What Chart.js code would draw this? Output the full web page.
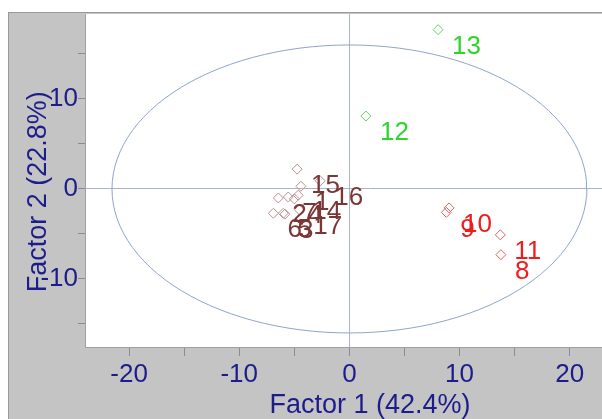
<!DOCTYPE html>
<html>
<head>
<meta charset="utf-8">
<script src="https://cdn.jsdelivr.net/npm/chart.js@4/dist/chart.umd.min.js"></script>
<style>
  html, body { margin: 0; padding: 0; background: #fff; overflow: hidden; width: 602px; height: 419px; }
  #wrap { position: absolute; left: 8px; top: 12px; width: 700px; height: 407px;
          background: #c4c4c4; border-top: 1px solid #9a9a9a; border-left: 1px solid #9a9a9a; }
  #chart { display: block; }
</style>
</head>
<body>
<div id="wrap"><canvas id="chart" width="646" height="406"></canvas></div>
<script>
// scores per group
const brownIds = ['1', '2', '3', '4', '5', '6', '7', '14', '15', '16', '17'];
const brownX = [-4.4, -6.45, -5.85, -5.0, -6.0, -6.9, -5.55, -4.65, -4.75, -2.65, -4.55];
const brownY = [0.3, -1.0, -2.8, -1.1, -2.7, -2.7, -0.9, -0.7, 2.2, 0.9, -2.3];

const redIds = ['8', '9', '10', '11'];
const redX = [13.75, 8.8, 9.05, 13.7];
const redY = [-7.3, -2.6, -2.1, -5.1];

const greenIds = ['12', '13'];
const greenX = [1.5, 8.05];
const greenY = [8.1, 17.7];

// tick marks every 5, numbers every 10
const xTicks = [-20, -15, -10, -5, 0, 5, 10, 15, 20, 25];
const yTicks = [-15, -10, -5, 0, 5, 10, 15];

// confidence ellipse semi-axes
const ellipseA = 21.55;
const ellipseB = 16.0;

const xTitle = 'Factor 1 (42.4%)';
const yTitle = 'Factor 2 (22.8%)';

const navy = '#1c1c8a';
const font = 'Liberation Sans, Arial, sans-serif';

function pts(xs, ys) {
    return xs.map((x, i) => ({ x: x, y: ys[i] }));
}

let ellipse = [];
for (let i = 0; i <= 120; i++) {
    let t = i / 120 * Math.PI * 2;
    ellipse.push({ x: ellipseA * Math.cos(t), y: ellipseB * Math.sin(t) });
}

// white plot area
const plotBg = {
    id: 'plotBg',
    beforeDraw(chart) {
        const { ctx, chartArea: a } = chart;
        ctx.save();
        ctx.fillStyle = '#fff';
        ctx.fillRect(a.left, a.top, a.right - a.left, a.bottom - a.top);
        ctx.restore();
    }
};

// sample numbers next to each diamond
const pointLabels = {
    id: 'pointLabels',
    afterDatasetsDraw(chart) {
        const ctx = chart.ctx;
        ctx.save();
        ctx.font = '26px ' + font;
        ctx.textAlign = 'left';
        ctx.textBaseline = 'middle';
        chart.data.datasets.forEach((ds, di) => {
            if (!ds.ids) return;
            ctx.fillStyle = ds.labelColor;
            chart.getDatasetMeta(di).data.forEach((el, i) => {
                ctx.fillText(ds.ids[i], el.x + 14, el.y + 17);
            });
        });
        ctx.restore();
    }
};

function noPad(s) {
    s.paddingTop = 0; s.paddingBottom = 0;
    s.paddingLeft = 0; s.paddingRight = 0;
}

const zeroLine = c => (c.tick && c.tick.value === 0 ? '#aab4c6' : 'rgba(0,0,0,0)');
const tens = v => (v % 10 === 0 ? String(v) : '');

new Chart(document.getElementById('chart'), {
    type: 'scatter',
    data: {
        datasets: [
            {
                data: ellipse, showLine: true, pointRadius: 0,
                borderColor: '#8ea6cc', borderWidth: 1, tension: 0
            },
            {
                data: pts(brownX, brownY), ids: brownIds, labelColor: '#7b3535',
                pointStyle: 'rectRot', pointRadius: 5, borderWidth: 1,
                borderColor: '#c09090', backgroundColor: 'rgba(255,255,255,0)'
            },
            {
                data: pts(redX, redY), ids: redIds, labelColor: '#ee1c1c',
                pointStyle: 'rectRot', pointRadius: 5, borderWidth: 1,
                borderColor: '#ea6060', backgroundColor: 'rgba(255,255,255,0)'
            },
            {
                data: pts(greenX, greenY), ids: greenIds, labelColor: '#2fd42f',
                pointStyle: 'rectRot', pointRadius: 5, borderWidth: 1,
                borderColor: '#5cd85c', backgroundColor: 'rgba(255,255,255,0)'
            }
        ]
    },
    options: {
        responsive: false,
        animation: false,
        layout: { autoPadding: false, padding: { top: 1, right: 0, left: 0, bottom: 0 } },
        plugins: { legend: { display: false }, tooltip: { enabled: false } },
        scales: {
            x: {
                min: -24, max: 27.74,
                afterBuildTicks(s) { s.ticks = xTicks.map(v => ({ value: v })); },
                afterFit(s) { s.height = 72; noPad(s); },
                ticks: {
                    padding: 3, color: navy, maxRotation: 0, autoSkip: false,
                    font: { family: font, size: 26 },
                    callback: tens
                },
                grid: { color: zeroLine, tickColor: '#8c8c8c', tickLength: 9, lineWidth: 1 },
                border: { color: '#a0a0a0', width: 1 },
                title: {
                    display: true, text: xTitle, color: navy,
                    font: { family: font, size: 27, lineHeight: 1 },
                    padding: { top: 0, bottom: 0 }
                }
            },
            y: {
                min: -17.56, max: 19.44,
                afterBuildTicks(s) { s.ticks = yTicks.map(v => ({ value: v })); },
                afterFit(s) { s.width = 76; noPad(s); },
                ticks: {
                    padding: 0, color: navy, autoSkip: false,
                    font: { family: font, size: 26 },
                    callback: tens
                },
                grid: { color: zeroLine, tickColor: '#8c8c8c', tickLength: 7, lineWidth: 1 },
                border: { color: '#a0a0a0', width: 1 },
                title: {
                    display: true, text: yTitle + '   ', color: navy,
                    font: { family: font, size: 27, lineHeight: 1 },
                    padding: { top: 16, bottom: 0 }
                }
            }
        }
    },
    plugins: [plotBg, pointLabels]
});
</script>
</body>
</html>
